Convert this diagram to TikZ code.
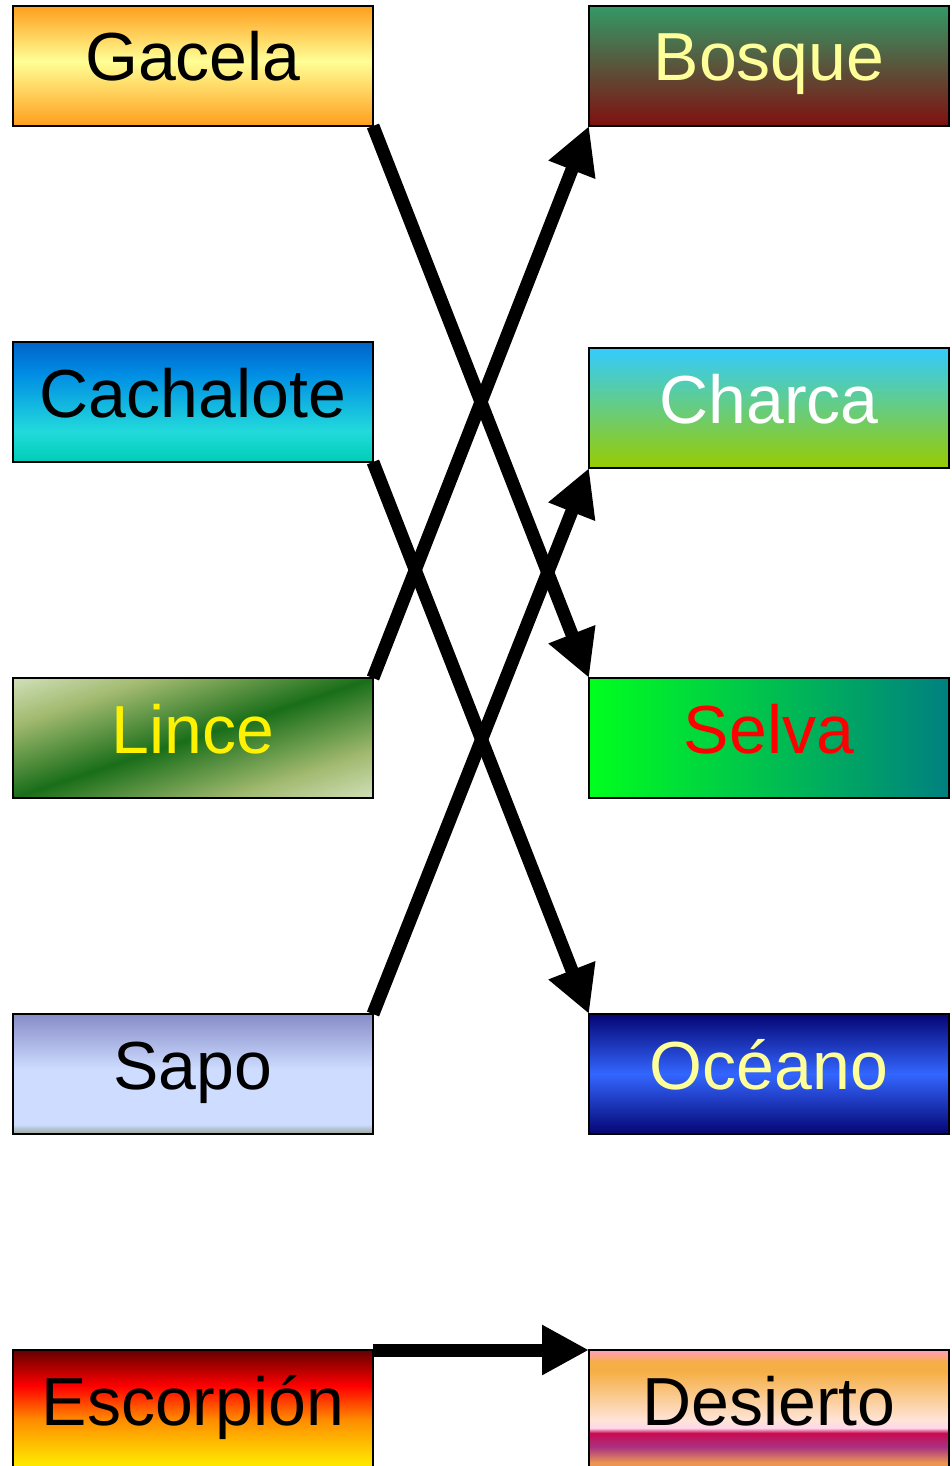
\documentclass[tikz,border=0pt]{standalone}
\usepackage{fontspec}
\setmainfont{Liberation Sans}
\usetikzlibrary{arrows.meta}
% colours
\definecolor{gcO}{RGB}{255,158,28}
\definecolor{gcY}{RGB}{255,255,150}
\definecolor{bqT}{RGB}{51,153,102}
\definecolor{bqB}{RGB}{128,16,16}
\definecolor{chA}{RGB}{0,205,180}
\definecolor{chB}{RGB}{34,218,220}
\definecolor{chC}{RGB}{0,140,228}
\definecolor{chD}{RGB}{0,100,200}
\definecolor{caT}{RGB}{51,204,255}
\definecolor{caB}{RGB}{153,204,0}
\definecolor{lnA}{RGB}{222,234,205}
\definecolor{lnB}{RGB}{160,185,110}
\definecolor{lnC}{RGB}{25,110,25}
\definecolor{svL}{RGB}{0,255,30}
\definecolor{svR}{RGB}{0,128,128}
\definecolor{spG}{RGB}{150,165,150}
\definecolor{spL}{RGB}{205,220,255}
\definecolor{spT}{RGB}{136,140,200}
\definecolor{ocD}{RGB}{5,5,115}
\definecolor{ocM}{RGB}{51,102,255}
\definecolor{esD}{RGB}{100,0,0}
\definecolor{esR}{RGB}{255,0,0}
\definecolor{esO}{RGB}{255,140,0}
\definecolor{esY}{RGB}{255,230,0}
\definecolor{dsP}{RGB}{255,160,170}
\definecolor{dsO}{RGB}{245,175,70}
\definecolor{dsL}{RGB}{255,228,215}
\definecolor{dsK}{RGB}{255,215,235}
\definecolor{dsM}{RGB}{200,10,80}
\definecolor{dsV}{RGB}{170,50,130}
\definecolor{dsQ}{RGB}{235,150,80}
\definecolor{paleY}{RGB}{255,255,153}
% shadings (0bp bottom, 25bp = box bottom, 75bp = box top)
\pgfdeclareverticalshading{gacelash}{100bp}{color(0bp)=(gcO); color(25bp)=(gcO); color(52bp)=(gcY); color(75bp)=(gcO); color(100bp)=(gcO)}
\pgfdeclareverticalshading{bosquesh}{100bp}{color(0bp)=(bqB); color(25bp)=(bqB); color(75bp)=(bqT); color(100bp)=(bqT)}
\pgfdeclareverticalshading{cachsh}{100bp}{color(0bp)=(chA); color(25bp)=(chA); color(38bp)=(chB); color(62bp)=(chC); color(75bp)=(chD); color(100bp)=(chD)}
\pgfdeclareverticalshading{charcash}{100bp}{color(0bp)=(caB); color(25bp)=(caB); color(75bp)=(caT); color(100bp)=(caT)}
\pgfdeclareverticalshading{lincesh}{100bp}{color(0bp)=(lnA); color(15bp)=(lnA); color(31bp)=(lnB); color(50bp)=(lnC); color(69bp)=(lnB); color(85bp)=(lnA); color(100bp)=(lnA)}
\pgfdeclareverticalshading{saposh}{100bp}{color(0bp)=(spG); color(25bp)=(spG); color(29bp)=(spL); color(52bp)=(spL); color(75bp)=(spT); color(100bp)=(spT)}
\pgfdeclareverticalshading{oceanosh}{100bp}{color(0bp)=(ocD); color(25bp)=(ocD); color(50bp)=(ocM); color(75bp)=(ocD); color(100bp)=(ocD)}
\pgfdeclareverticalshading{escsh}{100bp}{color(0bp)=(esY); color(28bp)=(esY); color(46bp)=(esO); color(60bp)=(esR); color(75bp)=(esD); color(100bp)=(esD)}
\pgfdeclareverticalshading{dessh}{100bp}{color(0bp)=(dsQ); color(28bp)=(dsQ); color(34.6bp)=(dsV); color(40.4bp)=(dsM); color(42.5bp)=(dsK); color(45.8bp)=(dsL); color(66bp)=(dsO); color(70bp)=(dsO); color(74bp)=(dsP); color(100bp)=(dsP)}
\tikzset{
  box/.style={draw=black, line width=2pt, rectangle, minimum width=360pt, minimum height=120pt,
    inner sep=0pt, outer sep=0pt, text height=50pt, text depth=20pt,
    font=\fontsize{68}{80}\selectfont},
  link/.style={line width=13pt, -{Triangle[length=47pt,width=47pt]}},
}
\begin{document}
\begin{tikzpicture}[x=1pt,y=-1pt]
\useasboundingbox (0,0) rectangle (952,1466);
% left column
\node[box, shading=gacelash, text=black] (gacela) at (193,66) {Gacela};
\node[box, shading=cachsh, text=black] (cachalote) at (193,402) {Cachalote};
\node[box, shading=lincesh, shading angle=18.4, text=yellow] (lince) at (193,738) {Lince};
\node[box, shading=saposh, text=black] (sapo) at (193,1074) {Sapo};
\node[box, shading=escsh, text=black] (escorpion) at (193,1410) {Escorpión};
% right column
\node[box, shading=bosquesh, text=paleY] (bosque) at (769,66) {Bosque};
\node[box, shading=charcash, text=white] (charca) at (769,408) {Charca};
\node[box, left color=svL, right color=svR, text=red] (selva) at (769,738) {Selva};
\node[box, shading=oceanosh, text=paleY] (oceano) at (769,1074) {Océano};
\node[box, shading=dessh, text=black] (desierto) at (769,1410) {Desierto};
% connectors
\draw[link] (gacela.south east) -- (selva.north west);
\draw[link] (cachalote.south east) -- (oceano.north west);
\draw[link] (lince.north east) -- (bosque.south west);
\draw[link] (sapo.north east) -- (charca.south west);
\draw[link] (escorpion.north east) -- (desierto.north west);
\end{tikzpicture}
\end{document}
